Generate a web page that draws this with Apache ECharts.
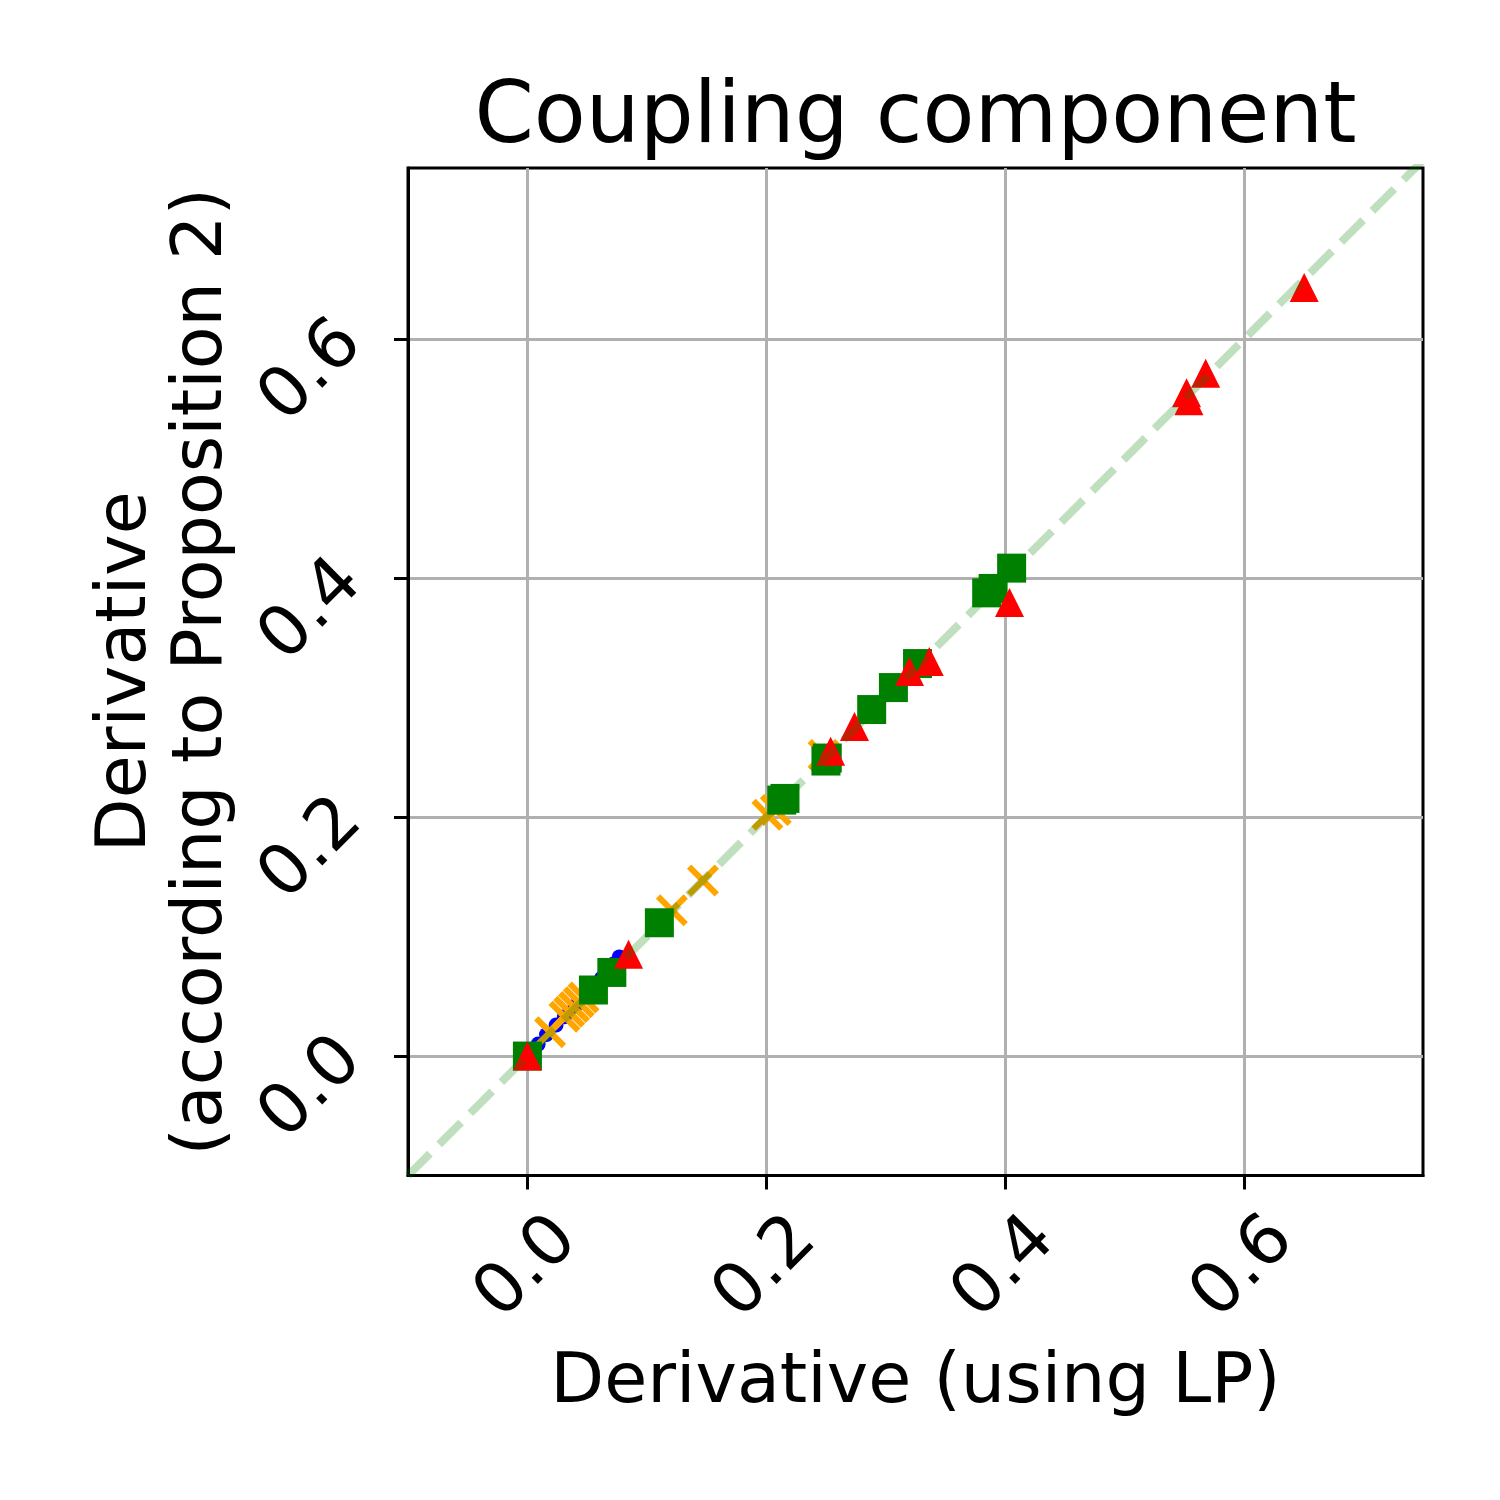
<!DOCTYPE html>
<html>
<head>
<meta charset="utf-8">
<script src="https://cdn.jsdelivr.net/npm/echarts@6/dist/echarts.min.js"></script>
<style>
html,body{margin:0;padding:0;background:#fff;}
#chart{width:1500px;height:1500px;}
</style>
</head>
<body>
<div id="chart"></div>
<script>
// ---- data ----
const titleText = 'Coupling component';
const xAxisName = 'Derivative (using LP)';
const yAxisName = 'Derivative\n(according to Proposition 2)';
const tickValues = [0.0, 0.2, 0.4, 0.6];
const xRange = [-0.1, 0.75];
const yRange = [-0.1, 0.7435];

const bluePoints = [
  [0.004, 0.005], [0.009, 0.010], [0.016, 0.018], [0.024, 0.026],
  [0.031, 0.033], [0.040, 0.042], [0.050, 0.052], [0.062, 0.065],
  [0.072, 0.077], [0.077, 0.083]
];
const orangePoints = [
  [0.019, 0.020], [0.031, 0.033], [0.035, 0.037], [0.039, 0.041],
  [0.043, 0.045], [0.047, 0.049], [0.121, 0.122], [0.147, 0.147],
  [0.201, 0.202], [0.208, 0.206], [0.248, 0.252]
];
const greenPoints = [
  [0.0, 0.0], [0.0553, 0.0553], [0.0707, 0.070], [0.1105, 0.1116],
  [0.213, 0.2143], [0.2157, 0.2157], [0.2511, 0.2495], [0.250, 0.247],
  [0.2883, 0.2901], [0.3065, 0.3085], [0.3267, 0.3286],
  [0.3846, 0.3878], [0.390, 0.3915], [0.4055, 0.4085]
];
const redPoints = [
  [0.0, 0.0], [0.0847, 0.0852], [0.2539, 0.2552], [0.2739, 0.2759],
  [0.320, 0.3219], [0.3365, 0.3303], [0.4037, 0.3797],
  [0.552, 0.5554], [0.554, 0.5487], [0.568, 0.5716], [0.6505, 0.6434]
];
const diagonal = [[-0.1, -0.1], [0.75, 0.75]];

// thick "x" marker outline
const xMarker = 'path://M100,0L115.56,15.56L73.34,57.78L115.56,100L100,115.56L57.78,73.34L15.56,115.56L0,100L42.22,57.78L0,15.56L15.56,0L57.78,42.22Z';

const FONT = 'DejaVu Sans';
const chart = echarts.init(document.getElementById('chart'), null, {renderer: 'canvas'});

const axisCommon = {
  type: 'value',
  nameLocation: 'middle',
  nameMoveOverlap: false,
  axisLine: {show: true, onZero: false, lineStyle: {color: '#000', width: 3}},
  axisTick: {show: true, inside: false, length: 14, lineStyle: {color: '#000', width: 3}, customValues: tickValues},
  splitLine: {show: true, lineStyle: {color: '#b0b0b0', width: 3}},
};

chart.setOption({
  animation: false,
  backgroundColor: '#fff',
  title: {
    text: titleText,
    left: 915.5,
    top: 77,
    textAlign: 'center',
    padding: 0,
    textStyle: {fontFamily: FONT, fontSize: 85, fontWeight: 'normal', color: '#000', lineHeight: 85}
  },
  grid: {
    left: 408, right: 77, top: 168, bottom: 324.5,
    containLabel: false,
    show: true, borderColor: '#000', borderWidth: 3, backgroundColor: '#fff'
  },
  xAxis: Object.assign({}, axisCommon, {
    min: xRange[0], max: xRange[1],
    name: xAxisName,
    nameGap: 208,
    nameTextStyle: {fontFamily: FONT, fontSize: 70, color: '#000', verticalAlign: 'middle', align: 'center'},
    axisLabel: {
      customValues: tickValues,
      rotate: 45, align: 'center', verticalAlign: 'middle', margin: 93,
      fontFamily: FONT, fontSize: 70, color: '#000',
      formatter: v => v.toFixed(1)
    }
  }),
  yAxis: Object.assign({}, axisCommon, {
    min: yRange[0], max: yRange[1],
    name: yAxisName,
    nameGap: 243,
    nameTextStyle: {fontFamily: FONT, fontSize: 70, lineHeight: 76, color: '#000', verticalAlign: 'middle', align: 'center'},
    axisLabel: {
      customValues: tickValues,
      rotate: 45, align: 'center', verticalAlign: 'middle', margin: 63,
      padding: [0, 93, 0, 0],
      fontFamily: FONT, fontSize: 70, color: '#000',
      formatter: v => v.toFixed(1)
    }
  }),
  series: [
    {type: 'scatter', data: bluePoints, symbol: 'circle', symbolSize: 15,
     itemStyle: {color: '#0000ff', opacity: 1}, z: 2, silent: true},
    {type: 'scatter', data: orangePoints, symbol: xMarker, symbolSize: 32,
     itemStyle: {color: '#ffa500', opacity: 1}, z: 3, silent: true},
    {type: 'scatter', data: greenPoints, symbol: 'rect', symbolSize: 29,
     itemStyle: {color: '#008000', opacity: 1}, z: 4, silent: true},
    {type: 'scatter', data: redPoints, symbol: 'triangle', symbolSize: 29,
     itemStyle: {color: '#ff0000', opacity: 1}, z: 5, silent: true},
    {type: 'line', data: diagonal, symbol: 'none', clip: true, z: 6, silent: true,
     lineStyle: {color: 'rgba(0,128,0,0.25)', width: 8, type: [31, 13], cap: 'butt'}}
  ]
});
</script>
</body>
</html>
